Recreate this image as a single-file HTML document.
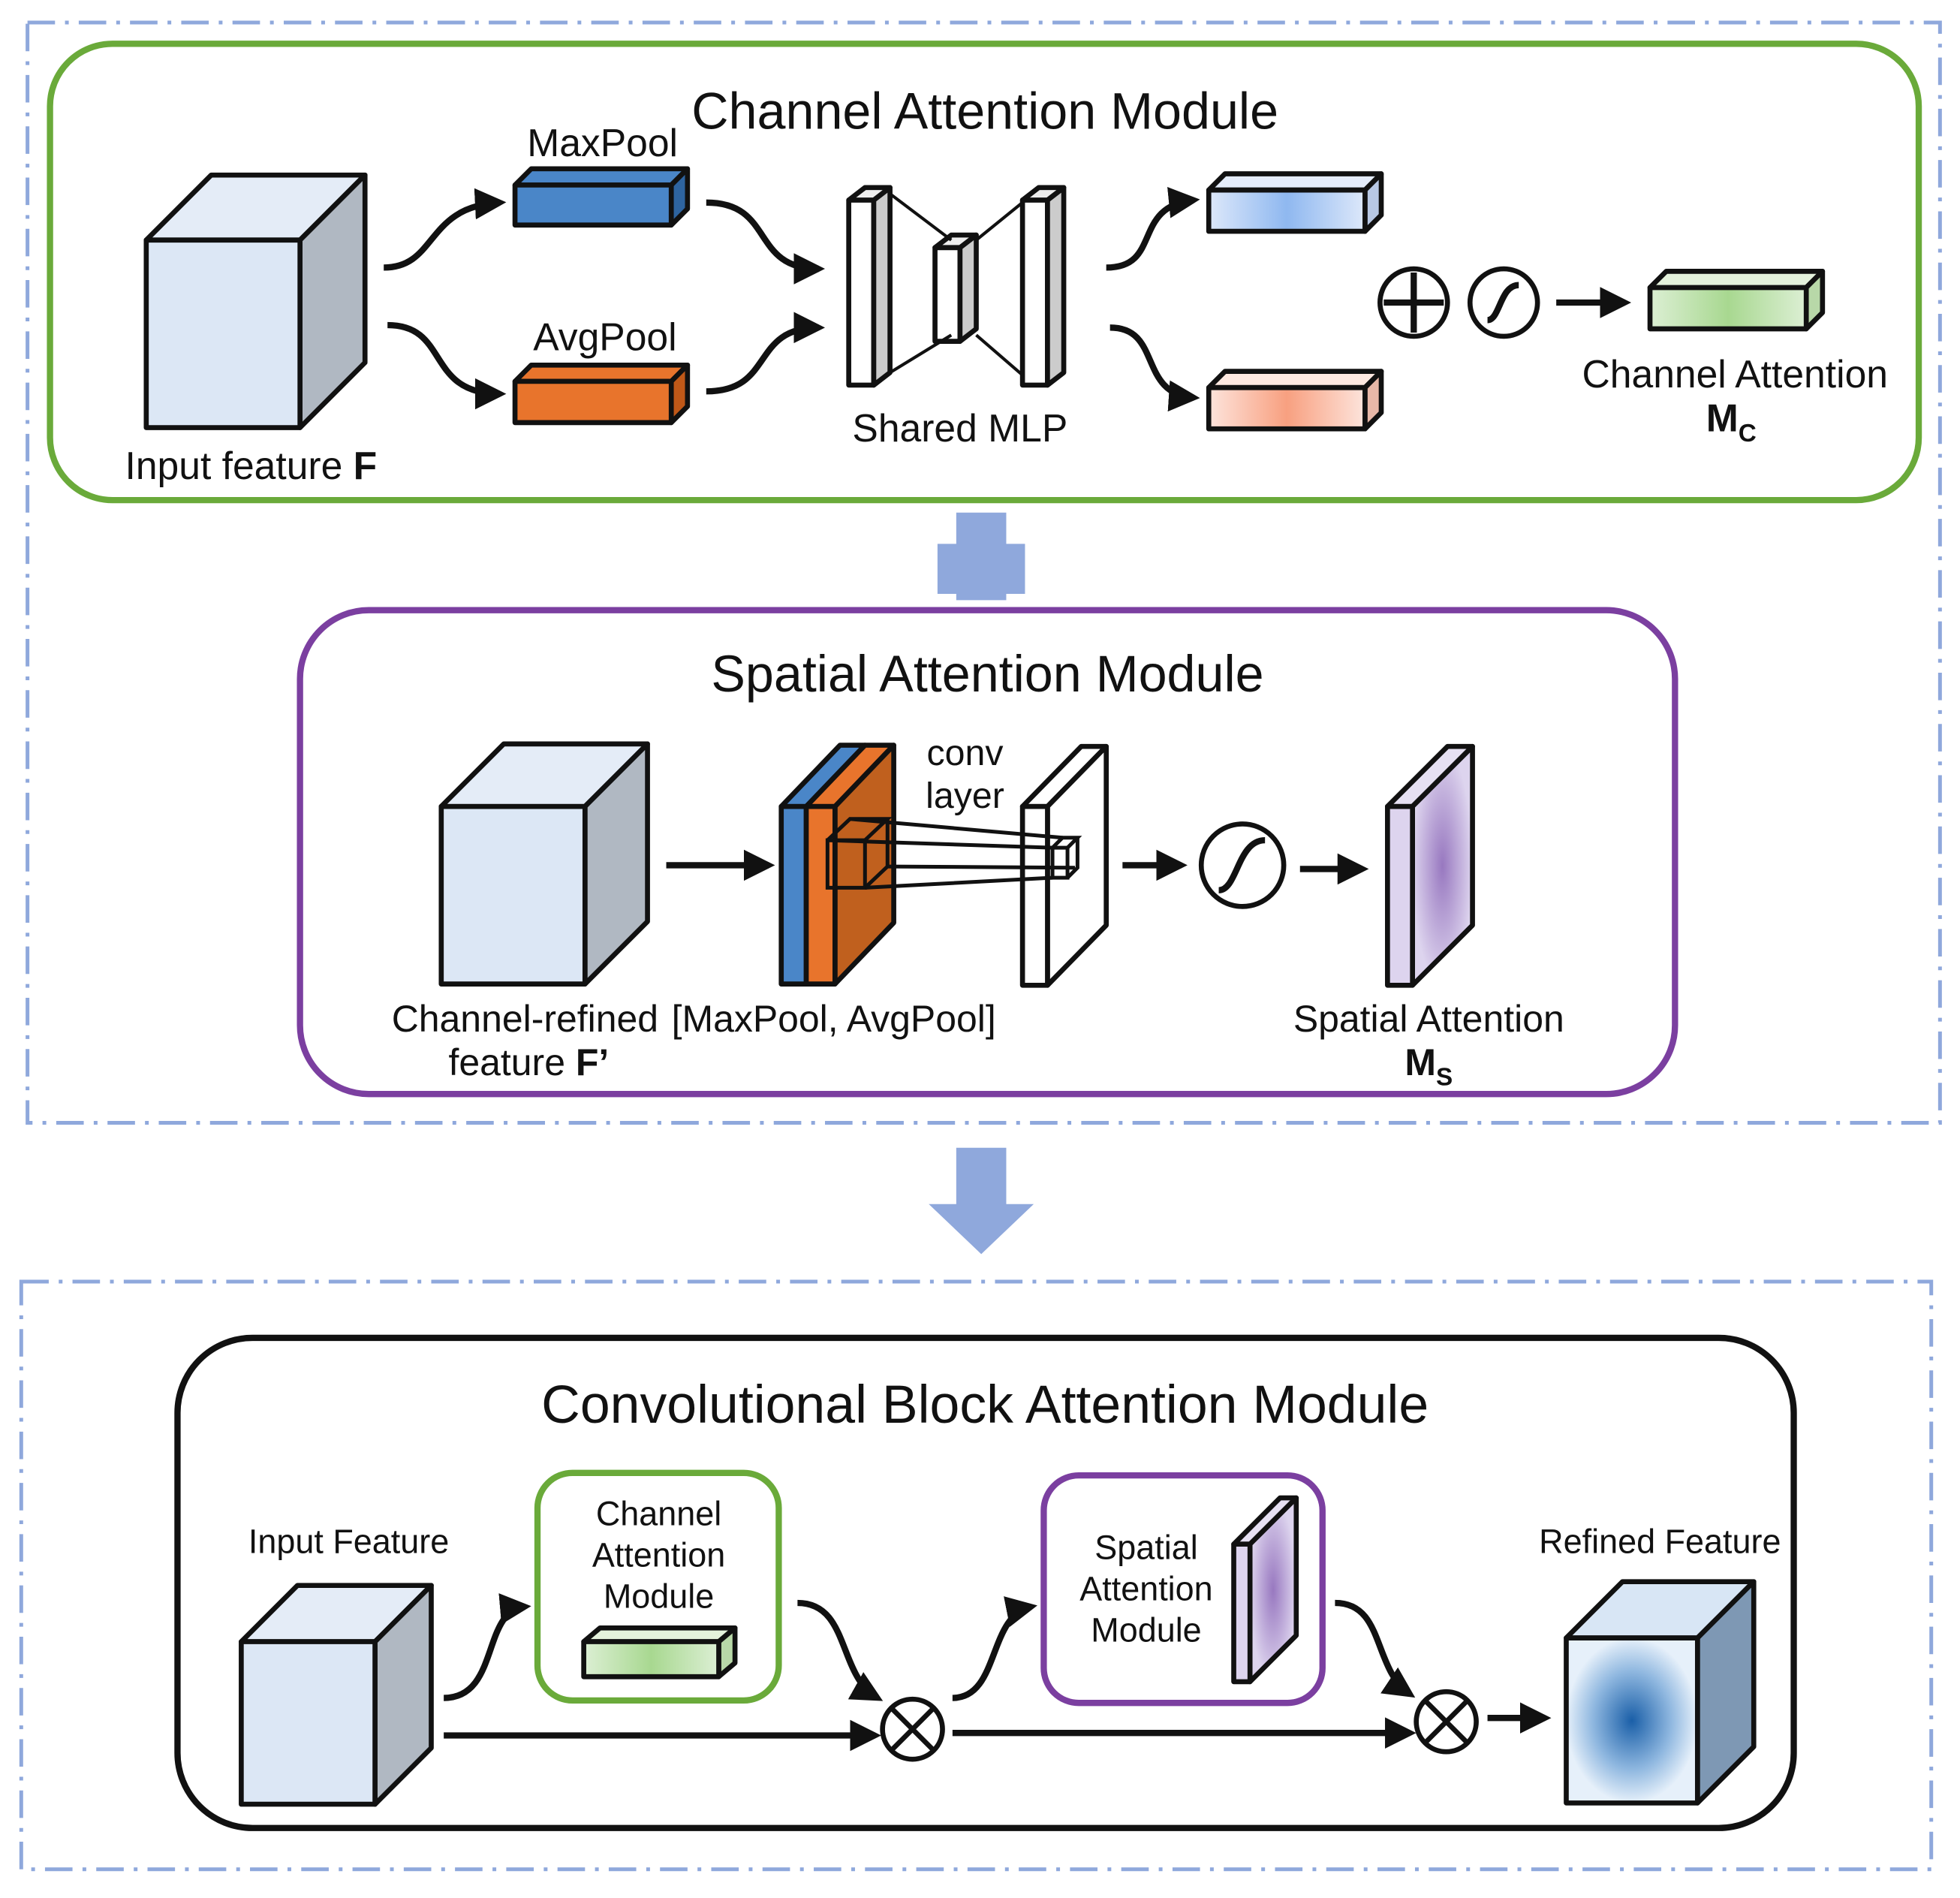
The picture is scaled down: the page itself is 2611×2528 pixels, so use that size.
<!DOCTYPE html>
<html><head><meta charset="utf-8"><style>html,body{margin:0;padding:0;background:#fff}svg{display:block}text{font-family:"Liberation Sans","DejaVu Sans",sans-serif;fill:#111}</style></head><body>
<svg width="2611" height="2528" viewBox="0 0 1568 1518" preserveAspectRatio="none" xmlns="http://www.w3.org/2000/svg">
<defs>
<marker id="ah" viewBox="0 0 10 10" refX="8" refY="5" markerWidth="5" markerHeight="5" orient="auto"><path d="M0,0 L10,5 L0,10 z" fill="#111"/></marker>
<linearGradient id="gb" x1="0" x2="1"><stop offset="0" stop-color="#dde8fa"/><stop offset=".5" stop-color="#8fb8f0"/><stop offset="1" stop-color="#dde8fa"/></linearGradient>
<linearGradient id="gp" x1="0" x2="1"><stop offset="0" stop-color="#fde4dc"/><stop offset=".5" stop-color="#f8a080"/><stop offset="1" stop-color="#fde4dc"/></linearGradient>
<linearGradient id="gg" x1="0" x2="1"><stop offset="0" stop-color="#dcefd4"/><stop offset=".5" stop-color="#a8d890"/><stop offset="1" stop-color="#dcefd4"/></linearGradient>
<radialGradient id="gv"><stop offset="0" stop-color="#9878c0"/><stop offset="1" stop-color="#ddd4ee"/></radialGradient>
<radialGradient id="gr"><stop offset="0" stop-color="#1a5fa8"/><stop offset=".6" stop-color="#90b8e0"/><stop offset="1" stop-color="#e6f0fa"/></radialGradient>
</defs>
<g fill="none" stroke="#8fa8dc" stroke-width="3" stroke-dasharray="22 8 3 8">
<rect x="22" y="18" width="1530" height="880"/>
<rect x="17" y="1025" width="1528" height="470"/>
</g>
<rect x="40" y="35" width="1495" height="365" rx="50" fill="none" stroke="#6aaa3a" stroke-width="5"/>
<text x="788" y="103" font-size="41" text-anchor="middle">Channel Attention Module</text>
<g stroke="#111" stroke-width="4" stroke-linejoin="round">
<polygon points="117,192 240,192 292,140 169,140" fill="#e4ecf7"/>
<polygon points="240,192 292,140 292,290 240,342" fill="#b0b8c2"/>
<rect x="117" y="192" width="123" height="150" fill="#dce7f5"/>
<polygon points="412,148 537,148 550,135 425,135" fill="#4a86c8"/><polygon points="537,148 550,135 550,167 537,180" fill="#2e64a0"/><rect x="412" y="148" width="125" height="32" fill="#4a86c8"/>
<polygon points="412,305 537,305 550,292 425,292" fill="#e8742c"/><polygon points="537,305 550,292 550,325 537,338" fill="#c05818"/><rect x="412" y="305" width="125" height="33" fill="#e8742c"/>
<rect x="679" y="160" width="20" height="148" fill="#fff"/><polygon points="699,160 712,150 712,298 699,308" fill="#ccc"/><polygon points="679,160 692,150 712,150 699,160" fill="#eee"/>
<rect x="748" y="198" width="20" height="75" fill="#fff"/><polygon points="768,198 781,188 781,263 768,273" fill="#ccc"/><polygon points="748,198 761,188 781,188 768,198" fill="#eee"/>
<rect x="818" y="160" width="20" height="148" fill="#fff"/><polygon points="838,160 851,150 851,298 838,308" fill="#ccc"/><polygon points="818,160 831,150 851,150 838,160" fill="#eee"/>
<line x1="712" y1="155" x2="761" y2="192" stroke-width="2.5"/><line x1="712" y1="298" x2="761" y2="268" stroke-width="2.5"/>
<line x1="818" y1="162" x2="781" y2="192" stroke-width="2.5"/><line x1="818" y1="300" x2="781" y2="268" stroke-width="2.5"/>
<polygon points="967,152 1092,152 1105,139 980,139" fill="#e4ecfa"/><polygon points="1092,152 1105,139 1105,172 1092,185" fill="#b8c8e4"/><rect x="967" y="152" width="125" height="33" fill="url(#gb)"/>
<polygon points="967,310 1092,310 1105,297 980,297" fill="#fde8e0"/><polygon points="1092,310 1105,297 1105,330 1092,343" fill="#e8b8a8"/><rect x="967" y="310" width="125" height="33" fill="url(#gp)"/>
<polygon points="1320,230 1445,230 1458,217 1333,217" fill="#e4f2dc"/><polygon points="1445,230 1458,217 1458,250 1445,263" fill="#b8d8a8"/><rect x="1320" y="230" width="125" height="33" fill="url(#gg)"/>
<circle cx="1131" cy="242" r="27" fill="#fff"/><circle cx="1203" cy="242" r="27" fill="#fff"/>
</g>
<g stroke="#111" stroke-width="5" fill="none">
<path d="M1131,218 V266 M1107,242 H1155"/>
<path d="M1190,256 C1200,256 1200,228 1215,228"/>
</g>
<g stroke="#111" stroke-width="5" fill="none" marker-end="url(#ah)">
<path d="M307,214 C350,214 340,165 400,162"/>
<path d="M310,260 C360,260 340,315 400,315"/>
<path d="M565,162 C620,162 600,215 655,215"/>
<path d="M565,313 C620,313 600,262 655,262"/>
<path d="M885,214 C930,214 905,165 955,160"/>
<path d="M888,262 C930,262 910,315 955,318"/>
<path d="M1245,242 H1300"/>
</g>
<text x="482" y="125" font-size="31" text-anchor="middle">MaxPool</text>
<text x="484" y="280" font-size="31" text-anchor="middle">AvgPool</text>
<text x="768" y="353" font-size="31" text-anchor="middle">Shared MLP</text>
<text x="100" y="383" font-size="31">Input feature <tspan font-weight="bold">F</tspan></text>
<text x="1388" y="310" font-size="31" text-anchor="middle">Channel Attention</text>
<text x="1385" y="345" font-size="31" font-weight="bold" text-anchor="middle">M<tspan font-size="20" dy="8">C</tspan></text>
<path d="M765,410 h40 v25 h15 v40 h-15 v5 h-40 v-5 h-15 v-40 h15z" fill="#8fa8dc"/>
<rect x="240" y="488" width="1100" height="387" rx="55" fill="none" stroke="#7b3fa0" stroke-width="5"/>
<text x="790" y="553" font-size="41" text-anchor="middle">Spatial Attention Module</text>
<g stroke="#111" stroke-width="4" stroke-linejoin="round">
<polygon points="353,645 468,645 518,595 403,595" fill="#e4ecf7"/><polygon points="468,645 518,595 518,737 468,787" fill="#b0b8c2"/><rect x="353" y="645" width="115" height="142" fill="#dce7f5"/>
<polygon points="625,645 645,645 692,596 672,596" fill="#4a86c8"/>
<polygon points="645,645 668,645 715,596 692,596" fill="#e8742c"/>
<polygon points="668,645 715,596 715,738 668,787" fill="#c0601e"/>
<rect x="625" y="645" width="20" height="142" fill="#4a86c8"/><rect x="645" y="645" width="23" height="142" fill="#e8742c"/>
<polygon points="818,645 838,645 885,597 865,597" fill="#fff"/><polygon points="838,645 885,597 885,740 838,788" fill="#fff"/><rect x="818" y="645" width="20" height="143" fill="#fff"/>
<polygon points="1110,645 1130,645 1178,597 1158,597" fill="#e6e0f2"/><polygon points="1130,645 1178,597 1178,740 1130,788" fill="url(#gv)"/><rect x="1110" y="645" width="20" height="143" fill="#ddd4ee"/>
<circle cx="994" cy="692" r="33" fill="#fff"/>
</g>
<g stroke="#111" stroke-width="3" fill="none">
<rect x="662" y="672" width="30" height="38"/><path d="M662,672 l18,-17 h30 l-18,17 M692,710 l18,-17 v-38"/>
<rect x="842" y="678" width="12" height="24"/><path d="M842,678 l8,-8 h12 l-8,8 M854,702 l8,-8 v-24"/>
<path d="M680,655 L850,670 M692,710 L842,702 M710,693 L860,694 M662,672 L842,678"/>
<path d="M975,712 C990,712 990,672 1012,672" stroke-width="5"/>
</g>
<g stroke="#111" stroke-width="5" marker-end="url(#ah)">
<line x1="533" y1="692" x2="615" y2="692"/><line x1="898" y1="692" x2="945" y2="692"/><line x1="1040" y1="695" x2="1090" y2="695"/>
</g>
<text x="772" y="612" font-size="29" text-anchor="middle">conv</text>
<text x="772" y="646" font-size="29" text-anchor="middle">layer</text>
<text x="420" y="825" font-size="30" text-anchor="middle">Channel-refined</text>
<text x="423" y="860" font-size="30" text-anchor="middle">feature <tspan font-weight="bold">F’</tspan></text>
<text x="667" y="825" font-size="30" text-anchor="middle">[MaxPool, AvgPool]</text>
<text x="1143" y="825" font-size="30" text-anchor="middle">Spatial Attention</text>
<text x="1143" y="860" font-size="30" font-weight="bold" text-anchor="middle">M<tspan font-size="20" dy="8">S</tspan></text>
<path d="M765,918 h40 v45 h22 l-42,40 l-42,-40 h22z" fill="#8fa8dc"/>
<rect x="142" y="1070" width="1293" height="392" rx="60" fill="none" stroke="#111" stroke-width="5"/>
<text x="788" y="1138" font-size="43" text-anchor="middle">Convolutional Block Attention Module</text>
<rect x="430" y="1178" width="193" height="182" rx="28" fill="none" stroke="#6aaa3a" stroke-width="5"/>
<rect x="835" y="1180" width="223" height="182" rx="28" fill="none" stroke="#7b3fa0" stroke-width="5"/>
<g stroke="#111" stroke-width="4" stroke-linejoin="round">
<polygon points="193,1313 300,1313 345,1268 238,1268" fill="#e4ecf7"/><polygon points="300,1313 345,1268 345,1398 300,1443" fill="#b0b8c2"/><rect x="193" y="1313" width="107" height="130" fill="#dce7f5"/>
<polygon points="467,1313 575,1313 588,1302 480,1302" fill="#e4f2dc"/><polygon points="575,1313 588,1302 588,1330 575,1341" fill="#b8d8a8"/><rect x="467" y="1313" width="108" height="28" fill="url(#gg)"/>
<polygon points="987,1235 1000,1235 1037,1198 1024,1198" fill="#e6e0f2"/><polygon points="1000,1235 1037,1198 1037,1308 1000,1345" fill="url(#gv)"/><rect x="987" y="1235" width="13" height="110" fill="#ddd4ee"/>
<polygon points="1253,1310 1358,1310 1403,1265 1298,1265" fill="#d8e6f5"/><polygon points="1358,1310 1403,1265 1403,1397 1358,1442" fill="#7e98b4"/><rect x="1253" y="1310" width="105" height="132" fill="url(#gr)"/>
<circle cx="730" cy="1383" r="24" fill="#fff"/><circle cx="1157" cy="1377" r="24" fill="#fff"/>
</g>
<g stroke="#111" stroke-width="4"><path d="M713,1366 L747,1400 M747,1366 L713,1400 M1140,1360 L1174,1394 M1174,1360 L1140,1394"/></g>
<g stroke="#111" stroke-width="5" fill="none" marker-end="url(#ah)">
<path d="M355,1358 C400,1358 385,1288 420,1285"/>
<line x1="355" y1="1388" x2="700" y2="1388"/>
<path d="M638,1282 C680,1282 670,1340 702,1358"/>
<path d="M762,1358 C800,1358 790,1292 825,1285"/>
<line x1="762" y1="1386" x2="1128" y2="1386"/>
<path d="M1068,1282 C1108,1282 1098,1335 1128,1355"/>
<line x1="1190" y1="1374" x2="1236" y2="1374"/>
</g>
<text x="279" y="1242" font-size="27" text-anchor="middle">Input Feature</text>
<text x="527" y="1220" font-size="27" text-anchor="middle">Channel</text>
<text x="527" y="1253" font-size="27" text-anchor="middle">Attention</text>
<text x="527" y="1286" font-size="27" text-anchor="middle">Module</text>
<text x="917" y="1247" font-size="27" text-anchor="middle">Spatial</text>
<text x="917" y="1280" font-size="27" text-anchor="middle">Attention</text>
<text x="917" y="1313" font-size="27" text-anchor="middle">Module</text>
<text x="1328" y="1242" font-size="27" text-anchor="middle">Refined Feature</text>
</svg>
</body></html>
